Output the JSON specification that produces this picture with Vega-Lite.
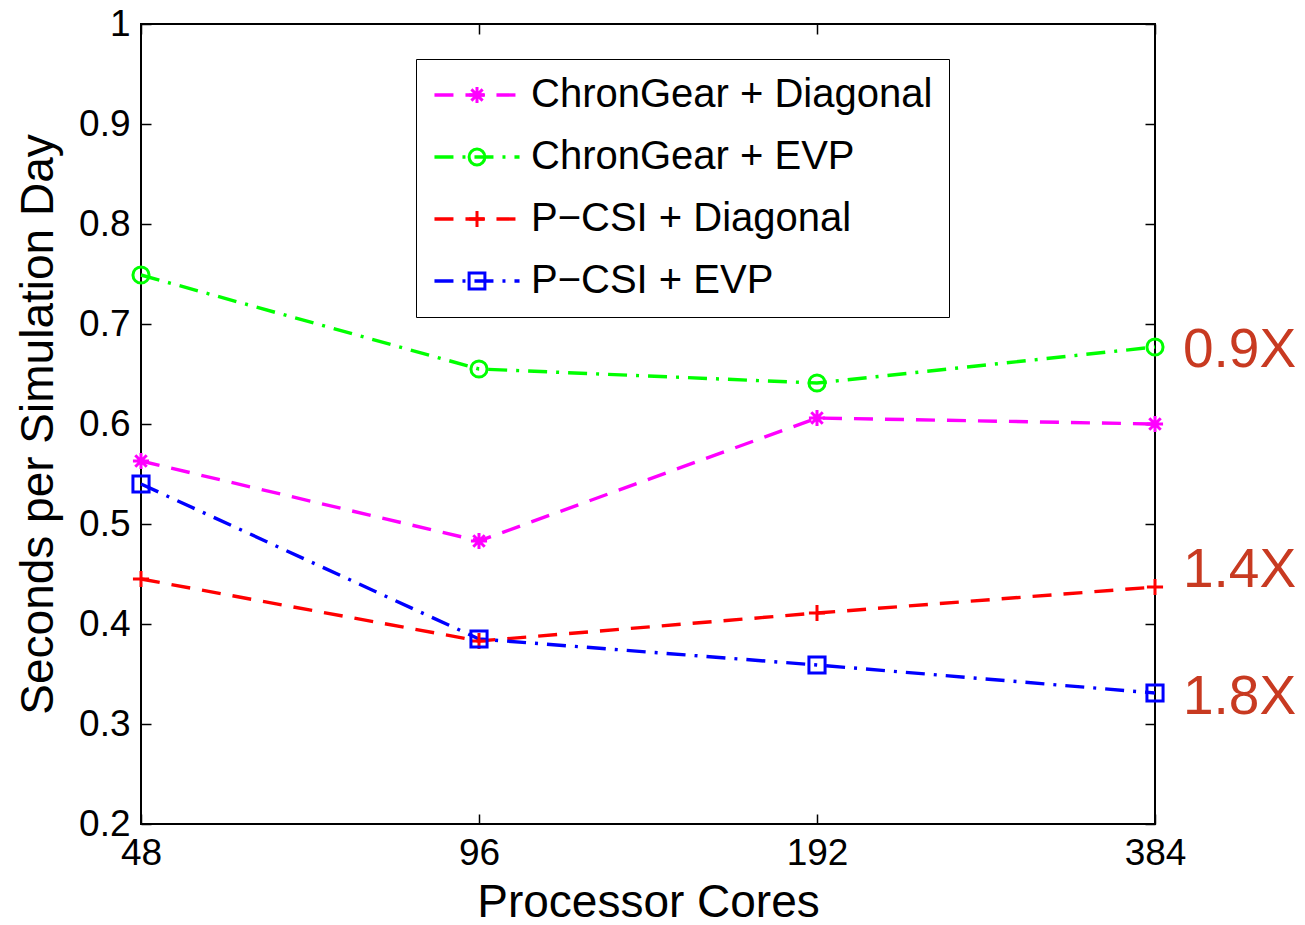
{
  "$schema": "https://vega.github.io/schema/vega-lite/v6.json",
  "width": 1014,
  "height": 800,
  "autosize": {"type": "none"},
  "padding": {"left": 141, "top": 24, "right": 150, "bottom": 101},
  "background": "white",
  "config": {
    "font": "Liberation Sans",
    "view": {"stroke": "black", "strokeWidth": 2},
    "axis": {"grid": false, "domain": false, "tickColor": "black", "tickWidth": 1.5, "labelColor": "black", "titleColor": "black", "titleFontWeight": "normal", "labelFont": "Liberation Sans", "titleFont": "Liberation Sans"}
  },
  "datasets": {
    "series": [
      {"series": "ChronGear + Diagonal", "cores": 48, "seconds": 0.563},
      {"series": "ChronGear + Diagonal", "cores": 96, "seconds": 0.483},
      {"series": "ChronGear + Diagonal", "cores": 192, "seconds": 0.606},
      {"series": "ChronGear + Diagonal", "cores": 384, "seconds": 0.600},
      {"series": "ChronGear + EVP", "cores": 48, "seconds": 0.749},
      {"series": "ChronGear + EVP", "cores": 96, "seconds": 0.655},
      {"series": "ChronGear + EVP", "cores": 192, "seconds": 0.641},
      {"series": "ChronGear + EVP", "cores": 384, "seconds": 0.677},
      {"series": "P−CSI + Diagonal", "cores": 48, "seconds": 0.445},
      {"series": "P−CSI + Diagonal", "cores": 96, "seconds": 0.383},
      {"series": "P−CSI + Diagonal", "cores": 192, "seconds": 0.411},
      {"series": "P−CSI + Diagonal", "cores": 384, "seconds": 0.437},
      {"series": "P−CSI + EVP", "cores": 48, "seconds": 0.540},
      {"series": "P−CSI + EVP", "cores": 96, "seconds": 0.385},
      {"series": "P−CSI + EVP", "cores": 192, "seconds": 0.359},
      {"series": "P−CSI + EVP", "cores": 384, "seconds": 0.331}
    ],
    "notes": [
      {"label": "0.9X", "cores": 384, "seconds": 0.674},
      {"label": "1.4X", "cores": 384, "seconds": 0.454},
      {"label": "1.8X", "cores": 384, "seconds": 0.327}
    ]
  },
  "layer": [
    {
      "data": {"name": "series"},
      "mark": {"type": "line", "strokeWidth": 3.4},
      "encoding": {
        "x": {
          "field": "cores", "type": "quantitative",
          "scale": {"type": "log", "base": 2, "domain": [48, 384], "nice": false},
          "axis": {"orient": "bottom", "values": [48, 96, 192, 384], "format": "d", "labelFontSize": 37, "tickSize": -10, "labelPadding": 21, "title": "Processor Cores", "titleFontSize": 46, "titlePadding": 9, "labelFlush": false}
        },
        "y": {
          "field": "seconds", "type": "quantitative",
          "scale": {"domain": [0.2, 1], "nice": false, "zero": false},
          "axis": {"orient": "left", "values": [0.2, 0.3, 0.4, 0.5, 0.6, 0.7, 0.8, 0.9, 1], "format": ".1~f", "labelFontSize": 37, "tickSize": -10, "labelPadding": 21, "title": "Seconds per Simulation Day", "titleFontSize": 46, "titlePadding": 16}
        },
        "stroke": {
          "field": "series", "type": "nominal",
          "scale": {"domain": ["ChronGear + Diagonal", "ChronGear + EVP", "P−CSI + Diagonal", "P−CSI + EVP"], "range": ["#ff00ff", "#00ff00", "#ff0000", "#0000ff"]},
          "legend": {"orient": "none", "legendX": 275, "legendY": 35, "title": null, "symbolType": "M-5.38,0L5.38,0", "symbolSize": 250, "symbolStrokeWidth": 3.4, "symbolOffset": 25, "labelFontSize": 40, "labelFont": "Liberation Sans", "labelColor": "black", "labelOffset": 34, "rowPadding": 22, "padding": 16, "strokeColor": "black", "fillColor": null, "labelLimit": 600}
        },
        "strokeDash": {
          "field": "series", "type": "nominal",
          "scale": {"domain": ["ChronGear + Diagonal", "ChronGear + EVP", "P−CSI + Diagonal", "P−CSI + EVP"], "range": [[19, 12], [19, 9, 3, 9], [19, 12], [19, 9, 3, 9]]},
          "legend": {"orient": "none", "legendX": 275, "legendY": 35, "title": null, "symbolType": "M-5.38,0L5.38,0", "symbolSize": 250, "symbolStrokeWidth": 3.4, "symbolOffset": 25, "labelFontSize": 40, "labelFont": "Liberation Sans", "labelColor": "black", "labelOffset": 34, "rowPadding": 22, "padding": 16, "strokeColor": "black", "fillColor": null, "labelLimit": 600}
        }
      }
    },
    {
      "data": {"name": "series"},
      "mark": {"type": "point", "filled": false, "strokeWidth": 3, "size": 260, "opacity": 1},
      "encoding": {
        "x": {
          "field": "cores", "type": "quantitative",
          "axis": {"orient": "top", "values": [48, 96, 192, 384], "labels": false, "tickSize": -10, "title": null}
        },
        "y": {
          "field": "seconds", "type": "quantitative",
          "axis": {"orient": "right", "values": [0.2, 0.3, 0.4, 0.5, 0.6, 0.7, 0.8, 0.9, 1], "labels": false, "tickSize": -10, "title": null}
        },
        "color": {
          "field": "series", "type": "nominal",
          "scale": {"range": ["#ff00ff", "#00ff00", "#ff0000", "#0000ff"]},
          "legend": {"orient": "none", "legendX": 275, "legendY": 35, "title": null, "symbolSize": 250, "symbolStrokeWidth": 3, "symbolOffset": 25, "labelFontSize": 40, "labelFont": "Liberation Sans", "labelExpr": "''", "labelOffset": 34, "rowPadding": 22, "padding": 16, "strokeColor": null, "fillColor": null, "labelLimit": 600}
        },
        "shape": {
          "field": "series", "type": "nominal",
          "scale": {"range": ["M0,-1L0,1M-1,0L1,0M-0.71,-0.71L0.71,0.71M-0.71,0.71L0.71,-0.71", "circle", "M-1,0L1,0M0,-1L0,1", "square"]},
          "legend": {"orient": "none", "legendX": 275, "legendY": 35, "title": null, "symbolSize": 250, "symbolStrokeWidth": 3, "symbolOffset": 25, "labelFontSize": 40, "labelFont": "Liberation Sans", "labelExpr": "''", "labelOffset": 34, "rowPadding": 22, "padding": 16, "strokeColor": null, "fillColor": null, "labelLimit": 600}
        }
      }
    },
    {
      "data": {"name": "notes"},
      "mark": {"type": "text", "align": "left", "baseline": "middle", "dx": 28, "fontSize": 55, "font": "Liberation Sans", "color": "#c83a21"},
      "encoding": {
        "x": {"field": "cores", "type": "quantitative", "axis": null},
        "y": {"field": "seconds", "type": "quantitative", "axis": null},
        "text": {"field": "label", "type": "nominal"}
      }
    }
  ],
  "resolve": {"axis": {"x": "independent", "y": "independent"}}
}
